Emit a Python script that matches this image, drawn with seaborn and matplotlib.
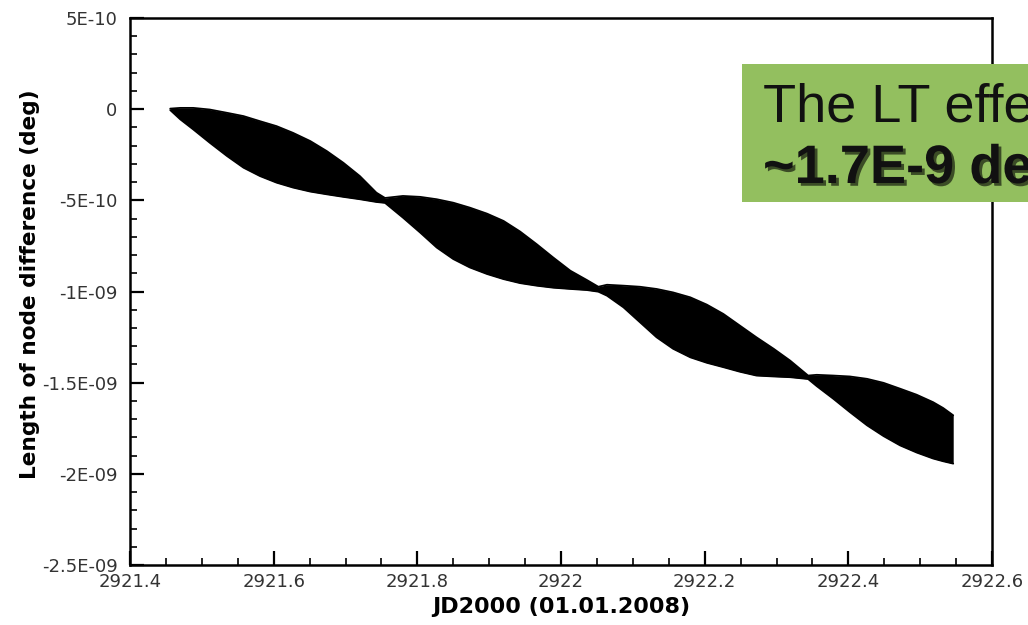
import numpy as np
import pandas as pd
import matplotlib
matplotlib.use("Agg")
import matplotlib.pyplot as plt
import matplotlib.patheffects as pe
from matplotlib.ticker import MultipleLocator, FixedLocator
import seaborn as sns

# ---- data ----
jd = [2921.456, 2921.470, 2921.488, 2921.511, 2921.535, 2921.558, 2921.581,
      2921.604, 2921.627, 2921.651, 2921.674, 2921.697, 2921.720, 2921.743,
      2921.755,
      2921.780, 2921.804, 2921.827, 2921.850, 2921.873, 2921.897, 2921.920,
      2921.943, 2921.966, 2921.989, 2922.013, 2922.036,
      2922.052,
      2922.064, 2922.087, 2922.110, 2922.133, 2922.156, 2922.180, 2922.203,
      2922.226, 2922.249, 2922.272, 2922.296, 2922.319,
      2922.344,
      2922.356, 2922.379, 2922.402, 2922.426, 2922.449, 2922.472, 2922.495,
      2922.518, 2922.532, 2922.546]
# envelope of the node-length difference, in units of 1E-09 deg
upper = [0.003, 0.007, 0.007, -0.002, -0.020, -0.038, -0.066,
         -0.093, -0.130, -0.175, -0.230, -0.294, -0.367, -0.458,
         -0.487,
         -0.476, -0.481, -0.494, -0.513, -0.540, -0.573, -0.613,
         -0.671, -0.740, -0.813, -0.886, -0.937,
         -0.974,
         -0.963, -0.968, -0.974, -0.986, -1.005, -1.032, -1.072,
         -1.123, -1.187, -1.251, -1.314, -1.379,
         -1.461,
         -1.457, -1.461, -1.466, -1.479, -1.501, -1.533, -1.566,
         -1.607, -1.639, -1.679]
lower = [-0.005, -0.056, -0.111, -0.184, -0.257, -0.321, -0.367,
         -0.403, -0.430, -0.452, -0.467, -0.481, -0.494, -0.509,
         -0.514,
         -0.595, -0.677, -0.759, -0.822, -0.868, -0.904, -0.932,
         -0.954, -0.968, -0.979, -0.986, -0.992,
         -1.001,
         -1.023, -1.087, -1.169, -1.251, -1.314, -1.361, -1.391,
         -1.415, -1.440, -1.461, -1.466, -1.470,
         -1.480,
         -1.519, -1.588, -1.661, -1.734, -1.793, -1.844, -1.883,
         -1.916, -1.931, -1.944]
unit = 1e-9

x_ticks = [2921.4, 2921.6, 2921.8, 2922.0, 2922.2, 2922.4, 2922.6]
x_ticklabels = ["2921.4", "2921.6", "2921.8", "2922", "2922.2", "2922.4", "2922.6"]
y_ticks = [-2.5e-9, -2e-9, -1.5e-9, -1e-9, -5e-10, 0.0, 5e-10]
y_ticklabels = ["-2.5E-09", "-2E-09", "-1.5E-09", "-1E-09", "-5E-10", "0", "5E-10"]

xlabel = "JD2000 (01.01.2008)"
ylabel = "Length of node difference (deg)"
box_line1 = "The LT effe"
box_line2 = "~1.7E-9 de"

df = pd.DataFrame({"jd": jd,
                   "upper": np.array(upper) * unit,
                   "lower": np.array(lower) * unit})

sns.set_theme(style="white")
plt.rcParams["font.family"] = ["DejaVu Sans"]

fig = plt.figure(figsize=(10.28, 6.25), dpi=100)
ax = fig.add_axes([130 / 1028, 1 - 565 / 625, 862 / 1028, 547 / 625])

ax.fill_between(df["jd"], df["lower"], df["upper"], color="black", linewidth=0)
sns.lineplot(data=df, x="jd", y="upper", ax=ax, color="black", linewidth=1.3)
sns.lineplot(data=df, x="jd", y="lower", ax=ax, color="black", linewidth=1.3)

ax.set_xlim(2921.4, 2922.6)
ax.set_ylim(-2.5e-9, 5e-10)
ax.xaxis.set_major_locator(FixedLocator(x_ticks))
ax.set_xticklabels(x_ticklabels)
ax.xaxis.set_minor_locator(MultipleLocator(0.05))
ax.yaxis.set_major_locator(FixedLocator(y_ticks))
ax.set_yticklabels(y_ticklabels)
ax.yaxis.set_minor_locator(MultipleLocator(1e-10))

ax.tick_params(which="both", direction="in", colors="black", labelcolor="#333333",
               labelsize=13, top=False, right=False, bottom=True, left=True)
ax.tick_params(which="major", length=10, width=1.6)
ax.tick_params(which="minor", length=5, width=1.2)
ax.tick_params(axis="y", which="major", pad=9)
ax.tick_params(axis="x", which="major", pad=6)

for s in ax.spines.values():
    s.set_visible(True)
    s.set_color("black")
    s.set_linewidth(1.8)

ax.set_xlabel(xlabel, fontsize=16, fontweight="bold", color="black")
ax.set_ylabel(ylabel, fontsize=15.6, fontweight="bold", color="black")
ax.xaxis.set_label_coords(0.5, -0.077)
ax.xaxis.label.set_va("center")
ax.yaxis.set_label_coords(-0.116, 0.514)
ax.yaxis.label.set_va("center")

# green annotation box (clipped by the figure's right edge, as in the reference)
box = plt.Rectangle((742 / 1028, 1 - 202 / 625), 1 - 742 / 1028 + 0.01, 138 / 625,
                    transform=fig.transFigure, facecolor="#93bf5f", edgecolor="none",
                    zorder=10)
fig.add_artist(box)
fig.text(763 / 1028, 1 - 122 / 625, box_line1, fontsize=39, color="#111111",
         family=["Liberation Sans", "DejaVu Sans"],
         ha="left", va="baseline", zorder=11)
fig.text(763 / 1028, 1 - 183 / 625, box_line2, fontsize=39, fontweight="bold",
         family=["Liberation Sans", "DejaVu Sans"],
         color="#111111", ha="left", va="baseline", zorder=11,
         path_effects=[pe.withSimplePatchShadow(offset=(2, -2), shadow_rgbFace="black",
                                                alpha=0.6)])

fig.savefig("out.png", dpi=100, facecolor="white")
